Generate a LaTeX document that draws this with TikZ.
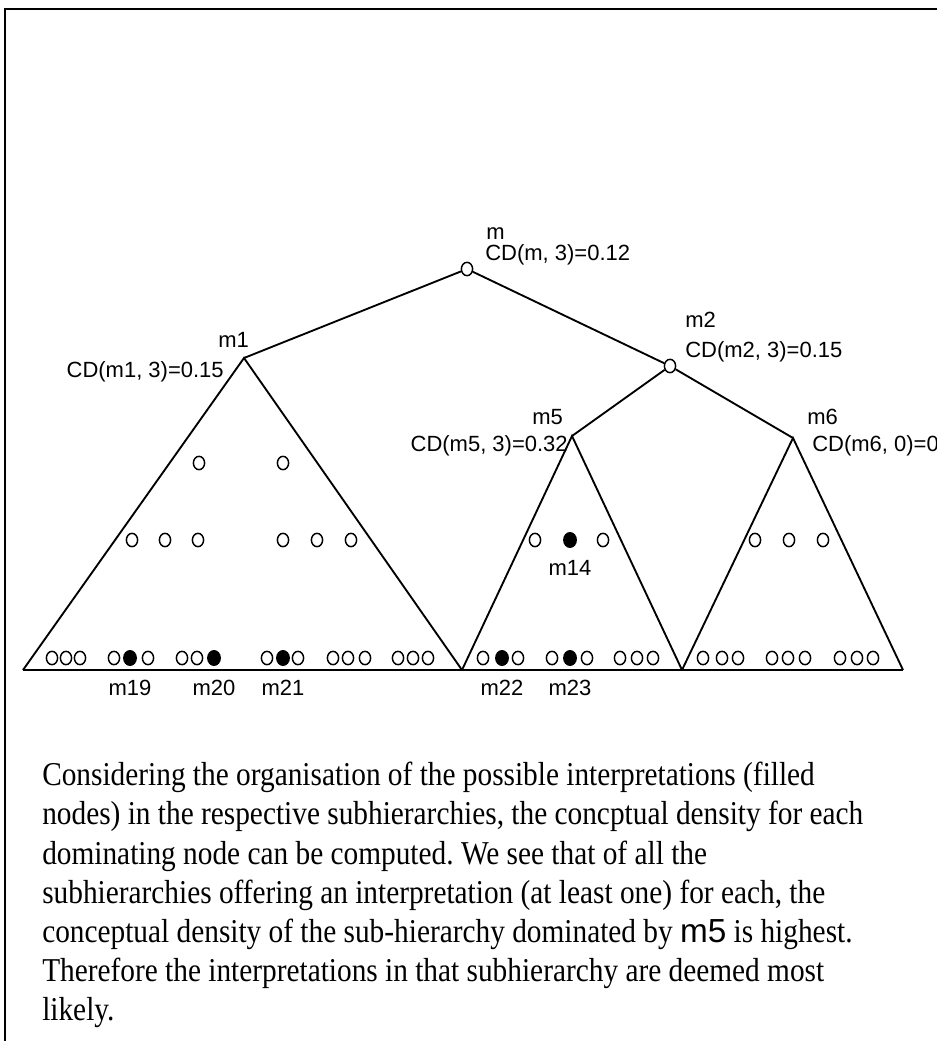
\documentclass[tikz,border=0pt]{standalone}
\usepackage{fontspec}
\setmainfont{Liberation Serif}[FakeStretch=0.88]
\newfontfamily\lblfont{Liberation Sans}
\usetikzlibrary{shapes.geometric, positioning}

\begin{document}
\begin{tikzpicture}[x=0.75pt, y=-0.75pt,
    every node/.style={font=\lblfont\fontsize{16.5}{19}\selectfont},
    lbl/.style={inner sep=0pt, anchor=west},
    leaf/.style={ellipse, draw, line width=1.1pt, minimum width=8.4pt, minimum height=10pt, inner sep=0pt},
    hit/.style={ellipse, fill=black, minimum width=10.4pt, minimum height=12pt, inner sep=0pt},
    branch/.style={line width=1.4pt},
    caption/.style={inner sep=0pt, anchor=north west, align=left, font=\rmfamily\fontsize{25}{29.4}\selectfont\frenchspacing}
]
\useasboundingbox (0,0) rectangle (937,1041);
\draw[line width=1.5pt] (5,1041) -- (5,9) -- (937,9);

\node[leaf] (m)  at (467,269) {};
\node[leaf] (m2) at (670,366) {};
\coordinate (m1) at (244,358);
\coordinate (m5) at (572,436);
\coordinate (m6) at (793,438);
\coordinate (b0) at (23,670);
\coordinate (b1) at (462,670);
\coordinate (b2) at (682,670);
\coordinate (b3) at (903,670);

\draw[branch] (m) -- (m1);
\draw[branch] (m) -- (m2);
\draw[branch] (m2) -- (m5);
\draw[branch] (m2) -- (m6);
\draw[branch] (b0) -- (m1) -- (b1);
\draw[branch] (b1) -- (m5) -- (b2);
\draw[branch] (b2) -- (m6) -- (b3);
\draw[branch] (b0) -- (b3);

\node[lbl] (mname)  at (486,234) {m};
\node[lbl] (mcd)    at (485,255) {CD(m, 3)=0.12};
\node[lbl] (m1name) at (218,340) {m1};
\node[lbl, anchor=east] (m1cd) at (224,372) {CD(m1, 3)=0.15};
\node[lbl] (m2name) at (685,320) {m2};
\node[lbl] (m2cd)   at (685,352) {CD(m2, 3)=0.15};
\node[lbl] (m5name) at (532,417) {m5};
\node[lbl, anchor=east] (m5cd) at (568,446) {CD(m5, 3)=0.32};
\node[lbl] (m6name) at (807,417) {m6};
\node[lbl] (m6cd)   at (812,446) {CD(m6, 0)=0};

\foreach \x/\y in {199/463, 283/463, 132/540, 165/540, 198/540, 283/540, 317/540, 351/540,
                   535/540, 603/540, 755/540, 789/540, 823/540}
  \node[leaf] (n\x-\y) at (\x,\y) {};
\node[hit] (m14) at (570,540) {};
\node[lbl, anchor=north] (m14name) at ([yshift=-9pt]m14.south) {m14};

\foreach \x in {52,66,80,114,148,182,197,267,298,333,348,365,398,413,428,
                483,518,552,587,620,637,653,703,722,738,772,788,805,840,857,873}
  \node[leaf] (l\x) at (\x,658) {};
\foreach \x/\n in {130/19, 214/20, 283/21, 502/22, 570/23}
  \node[hit] (m\n) at (\x,658) {};
\foreach \n in {19,20,21,22,23}
  \node[lbl, anchor=north] (m\n name) at ([yshift=-10pt]m\n.south) {m\n};

\node[caption] (text) at (42,762) {Considering the organisation of the possible interpretations (filled\\
nodes) in the respective subhierarchies, the concptual density for each\\
dominating node can be computed. We see that of all the\\
subhierarchies offering an interpretation (at least one) for each, the\\
conceptual density of the sub-hierarchy dominated by {\lblfont m5} is highest.\\
Therefore the interpretations in that subhierarchy are deemed most\\
likely.};
\end{tikzpicture}
\end{document}
